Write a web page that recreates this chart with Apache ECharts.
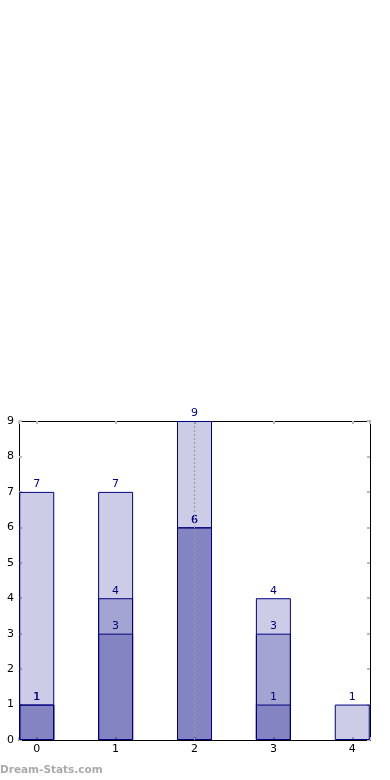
<!DOCTYPE html>
<html>
<head>
<meta charset="utf-8">
<script src="https://cdn.jsdelivr.net/npm/echarts@6/dist/echarts.min.js"></script>
<style>
html,body{margin:0;padding:0;background:#fff;}
#chart{width:390px;height:780px;}
</style>
</head>
<body>
<div id="chart"></div>
<script>
const categories = [0, 1, 2, 3, 4];
const totalValues = [7, 7, 9, 4, 1];
const middleValues = [1, 4, 6, 3, 0];
const innerValues = [1, 3, 6, 1, 0];
const yTicks = [0, 1, 2, 3, 4, 5, 6, 7, 8, 9];
const markerCategory = 2;

const font = 'DejaVu Sans';
const navy = '#000080';
const fillColor = 'rgba(0,0,128,0.2)';
const tickStyle = {show: true, inside: true, length: 3, lineStyle: {color: '#bbbbbb', width: 2}};

function pairs(vals) {
  return categories.map((c, i) => [c, vals[i] > 0 ? vals[i] : '-']);
}

function barSeries(name, vals, extra) {
  return Object.assign({
    name: name,
    type: 'bar',
    xAxisIndex: 0,
    yAxisIndex: 0,
    barWidth: 35,
    barGap: '-100%',
    data: pairs(vals),
    itemStyle: {color: fillColor, borderColor: navy, borderWidth: 1},
    label: {
      show: true,
      position: 'top',
      distance: 2,
      color: navy,
      fontFamily: font,
      fontSize: 11,
      formatter: p => String(p.value[1])
    },
    silent: true
  }, extra || {});
}

const xBase = {
  type: 'value',
  min: categories[0] - 0.225,
  max: categories[categories.length - 1] + 0.225,
  axisLine: {show: true, onZero: false, lineStyle: {color: '#000', width: 1}},
  axisTick: tickStyle,
  splitLine: {show: false},
  showMinLabel: false,
  showMaxLabel: false
};
const yBase = {
  type: 'value',
  min: yTicks[0],
  max: yTicks[yTicks.length - 1],
  interval: 1,
  axisLine: {show: true, onZero: false, lineStyle: {color: '#000', width: 1}},
  axisTick: tickStyle,
  splitLine: {show: false}
};

const option = {
  animation: false,
  grid: {left: 19, right: 20, top: 421, bottom: 40, containLabel: false},
  xAxis: [
    Object.assign({}, xBase, {
      position: 'bottom',
      axisLabel: {
        color: '#000', fontFamily: font, fontSize: 11, margin: 4,
        formatter: v => (Math.abs(v - Math.round(v)) < 1e-9 ? String(Math.round(v)) : '')
      }
    }),
    Object.assign({}, xBase, {position: 'top', axisLabel: {show: false}})
  ],
  yAxis: [
    Object.assign({}, yBase, {
      position: 'left',
      axisLabel: {color: '#000', fontFamily: font, fontSize: 11, margin: 5}
    }),
    Object.assign({}, yBase, {position: 'right', axisLabel: {show: false}})
  ],
  series: [
    barSeries('total', totalValues),
    barSeries('middle', middleValues),
    barSeries('inner', innerValues, {
      markLine: {
        silent: true,
        symbol: 'none',
        label: {show: false},
        lineStyle: {color: '#999999', type: [2, 2], width: 1},
        data: [{xAxis: markerCategory}]
      }
    })
  ],
  graphic: [{
    type: 'text',
    left: 0,
    top: 765,
    style: {
      text: 'Dream-Stats.com',
      fill: '#aaaaaa',
      font: 'bold 10.5px "DejaVu Sans"'
    }
  }]
};

const chart = echarts.init(document.getElementById('chart'), null, {renderer: 'canvas'});
chart.setOption(option);
</script>
</body>
</html>
